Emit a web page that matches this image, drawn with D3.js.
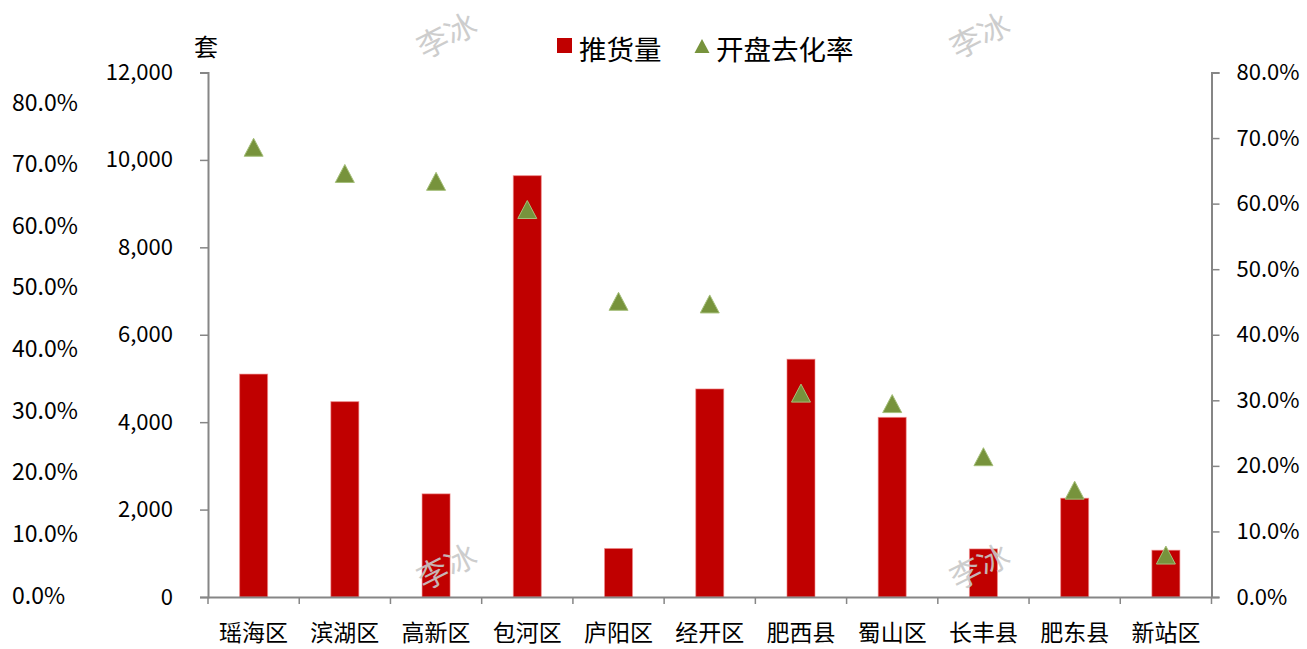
<!DOCTYPE html>
<html><head><meta charset="utf-8">
<script src="https://cdn.jsdelivr.net/npm/d3@7/dist/d3.min.js"></script>
<style>
html,body{margin:0;padding:0;background:#fff;}
text{font-family:"Noto Sans CJK SC","Noto Sans",sans-serif;fill:#000;}
</style></head>
<body>
<svg id="chart" width="1307" height="649"></svg>
<script>
const categories = ["瑶海区","滨湖区","高新区","包河区","庐阳区","经开区","肥西县","蜀山区","长丰县","肥东县","新站区"];
const inventory = [5100, 4470, 2360, 9640, 1110, 4760, 5440, 4110, 1100, 2260, 1070];
const sellThrough = [68.6, 64.6, 63.4, 59.1, 45.1, 44.7, 31.1, 29.5, 21.4, 16.3, 6.4];
const leftTicks = [0, 2000, 4000, 6000, 8000, 10000, 12000];
const pctTicks = [0, 10, 20, 30, 40, 50, 60, 70, 80];
const seriesNames = ["推货量", "开盘去化率"];
const unitLabel = "套";
const watermark = "李冰";

const svg = d3.select("#chart");
const L = 208, R = 1211.5, T = 72.5, B = 597;
const axisColor = "#868686";
const FONT = '"Noto Sans CJK SC","Noto Sans",sans-serif';

const x = d3.scaleBand().domain(categories).range([L, R]).paddingInner(0).paddingOuter(0);
const yL = d3.scaleLinear().domain([0, 12000]).range([B, T]);
const yR = d3.scaleLinear().domain([0, 80]).range([B, T]);
const yFar = d3.scaleLinear().domain([0, 80]).range([595.5, 102.5]);

// bars
const barW = 28;
svg.append("g").selectAll("rect").data(categories).join("rect")
  .attr("x", d => x(d) + x.bandwidth()/2 - barW/2)
  .attr("y", (d,i) => yL(inventory[i]))
  .attr("width", barW)
  .attr("height", (d,i) => B - yL(inventory[i]))
  .attr("fill", "#C00000")
  .attr("stroke", "#f08a8a").attr("stroke-width", 1).attr("stroke-opacity", 0.6);

// left axis
const gL = svg.append("g").attr("transform", `translate(${L},0)`)
  .call(d3.axisLeft(yL).tickValues(leftTicks).tickSize(8).tickPadding(27).tickFormat(d3.format(",")));
// right axis
const gR = svg.append("g").attr("transform", `translate(${R},0)`)
  .call(d3.axisRight(yR).tickValues(pctTicks).tickSize(8).tickPadding(17).tickFormat(d => d3.format(".1f")(d) + "%"));
// x axis
const gX = svg.append("g").attr("transform", `translate(0,${B})`)
  .call(d3.axisBottom(x).tickSize(0).tickPadding(28));
[gL, gR, gX].forEach(g => {
  g.select(".domain").attr("stroke", axisColor).attr("stroke-width", 2);
  g.selectAll(".tick line").attr("stroke", axisColor).attr("stroke-width", 1.5);
  g.selectAll("text").attr("font-size", 22).attr("font-family", FONT).attr("fill", "#000");
});
gX.selectAll("text").attr("font-size", 23);
// category boundary ticks
svg.append("g").selectAll("line").data(categories.concat(["__end"])).join("line")
  .attr("x1", (d,i) => i < categories.length ? x(d) : R)
  .attr("x2", (d,i) => i < categories.length ? x(d) : R)
  .attr("y1", B).attr("y2", B + 7)
  .attr("stroke", axisColor).attr("stroke-width", 1.5);

// far-left percentage column
svg.append("g").selectAll("text").data(pctTicks).join("text")
  .attr("x", 12).attr("y", d => yFar(d)).attr("dy", "0.35em")
  .attr("font-size", 23)
  .text(d => d3.format(".1f")(d) + "%");

// unit
svg.append("text").attr("x", 194).attr("y", 48).attr("dy", "0.35em").attr("font-size", 24).text(unitLabel);

// triangles (bounding box centred on the value)
const triPath = (w, h) => `M0,${-h/2}L${w/2},${h/2}L${-w/2},${h/2}Z`;
svg.append("g").selectAll("path").data(categories).join("path")
  .attr("d", triPath(19, 18))
  .attr("transform", (d,i) => `translate(${x(d) + x.bandwidth()/2},${yR(sellThrough[i])})`)
  .attr("fill", "#77933C").attr("stroke", "#a5bf7a").attr("stroke-width", 1);

// legend
const lg = svg.append("g");
lg.append("rect").attr("x", 557).attr("y", 38).attr("width", 15).attr("height", 15).attr("fill", "#C00000");
lg.append("text").attr("x", 579).attr("y", 50).attr("dy", "0.35em").attr("font-size", 27.5).text(seriesNames[0]);
lg.append("path").attr("d", triPath(15, 14))
  .attr("transform", "translate(702,46)").attr("fill", "#77933C");
lg.append("text").attr("x", 716).attr("y", 50).attr("dy", "0.35em").attr("font-size", 27.5).text(seriesNames[1]);

// watermarks
const wm = [[447, 36], [980, 36], [447, 567], [980, 567]];
svg.append("g").selectAll("text").data(wm).join("text")
  .attr("transform", d => `translate(${d[0]},${d[1]}) rotate(-27)`)
  .attr("text-anchor", "middle").attr("dy", "0.35em")
  .attr("font-size", 31).style("fill", "#c8c8c8").attr("opacity", 0.9)
  .text(watermark);
</script>
</body></html>
